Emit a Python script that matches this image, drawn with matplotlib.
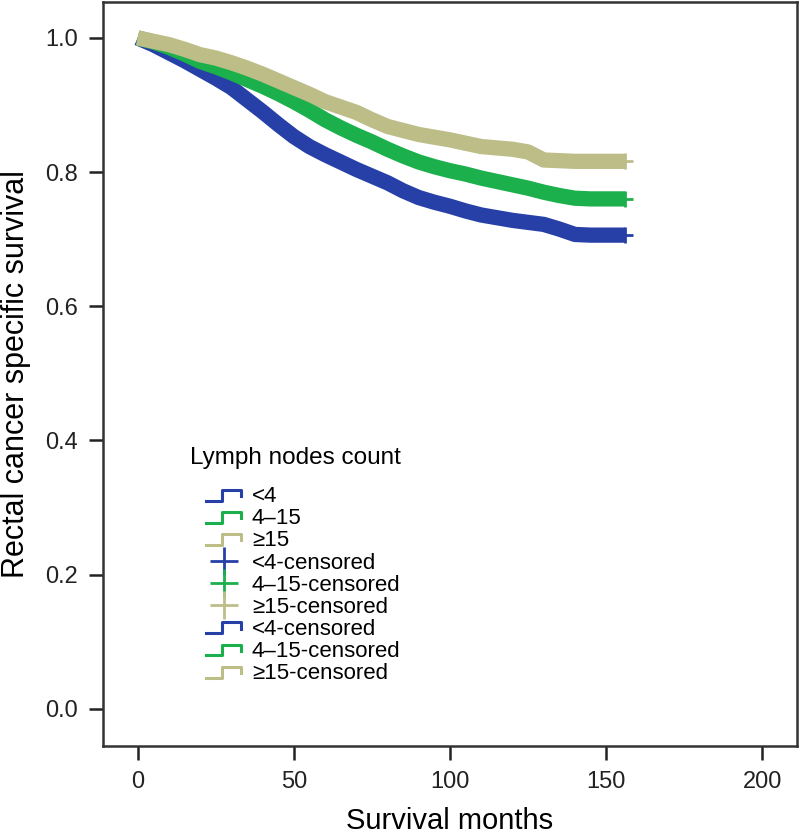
import numpy as np
import matplotlib
matplotlib.use("Agg")
import matplotlib.pyplot as plt
from matplotlib.lines import Line2D
from matplotlib.legend_handler import HandlerBase

plt.rcParams['font.family'] = ['Liberation Sans', 'DejaVu Sans']

# Data
months = [0, 5, 10, 15, 20, 25, 30, 35, 40, 45, 50, 55, 60, 65, 70, 75, 80,
          85, 90, 95, 100, 105, 110, 115, 120, 125, 130, 135, 140, 145, 150, 156]
surv_lt4 = [1.0, 0.99, 0.978, 0.966, 0.953, 0.94, 0.926, 0.908, 0.89, 0.871,
            0.853, 0.838, 0.826, 0.815, 0.804, 0.794, 0.784, 0.772, 0.762,
            0.755, 0.749, 0.742, 0.736, 0.732, 0.728, 0.725, 0.722, 0.715,
            0.707, 0.706, 0.706, 0.706]
surv_4_15 = [1.0, 0.994, 0.986, 0.976, 0.965, 0.957, 0.948, 0.938, 0.928,
             0.917, 0.905, 0.892, 0.878, 0.866, 0.855, 0.845, 0.834, 0.824,
             0.815, 0.808, 0.802, 0.797, 0.791, 0.786, 0.781, 0.776, 0.77,
             0.765, 0.761, 0.76, 0.76, 0.76]
surv_ge15 = [1.0, 0.995, 0.99, 0.983, 0.975, 0.97, 0.963, 0.955, 0.946, 0.936,
             0.926, 0.916, 0.905, 0.897, 0.889, 0.878, 0.868, 0.862, 0.856,
             0.852, 0.848, 0.843, 0.838, 0.836, 0.834, 0.83, 0.818, 0.817,
             0.816, 0.816, 0.816, 0.816]

groups = ['<4', '4\u201315', '\u226515']
colors = ['#2740a8', '#1bb04b', '#bdbd88']
series = [surv_lt4, surv_4_15, surv_ge15]


class StepHandler(HandlerBase):
    # little step icon like the SPSS legend
    def create_artists(self, legend, orig_handle, xdescent, ydescent,
                       width, height, fontsize, trans):
        x = np.array([0, 0.45, 0.45, 1.0, 1.0]) * width - xdescent
        y = np.array([0.1, 0.1, 0.8, 0.8, 0.4]) * height - ydescent
        ln = Line2D(x, y, color=orig_handle.get_color(), lw=2.2)
        ln.set_transform(trans)
        return [ln]


fig = plt.figure(figsize=(8, 8.35), dpi=100)
ax = fig.add_axes([0.129, 0.107, 0.867, 0.891])

for vals, c in zip(series, colors):
    ax.plot(months, vals, color=c, lw=11, solid_capstyle='butt', zorder=2)
    ax.plot(months[-1:], vals[-1:], color=c, lw=0, marker='+', ms=12,
            mew=2, zorder=3)

ax.set_xlim(-11, 211)
ax.set_ylim(-0.055, 1.054)
ax.set_xticks([0, 50, 100, 150, 200])
ax.set_yticks([0.0, 0.2, 0.4, 0.6, 0.8, 1.0])
ax.set_yticklabels(['0.0', '0.2', '0.4', '0.6', '0.8', '1.0'])
ax.tick_params(direction='out', length=10, width=1.8, labelsize=17,
               colors='#222222', pad=8)
for s in ax.spines.values():
    s.set_linewidth(1.8)
    s.set_color('#333333')

ax.set_xlabel('Survival months', fontsize=21, labelpad=10)
ax.set_ylabel('Rectal cancer specific survival', fontsize=22, labelpad=10)

# legend
step_h = [Line2D([], [], color=c) for c in colors]
cross_h = [Line2D([], [], color=c, lw=0, marker='+', ms=20, mew=2) for c in colors]
handles = step_h + cross_h + step_h
labels = groups + [g + '-censored' for g in groups] * 2
hmap = {h: StepHandler() for h in step_h}
leg = fig.legend(handles, labels, handler_map=hmap, loc='upper left',
                 bbox_to_anchor=(0.244, 0.431), frameon=False, fontsize=16,
                 handlelength=1.55, handletextpad=0.5,
                 labelspacing=0.05, borderpad=0)
fig.text(0.238, 1 - 458 / 835, 'Lymph nodes count', fontsize=17.5,
         va='center', ha='left')

fig.savefig('out.png', dpi=100)
